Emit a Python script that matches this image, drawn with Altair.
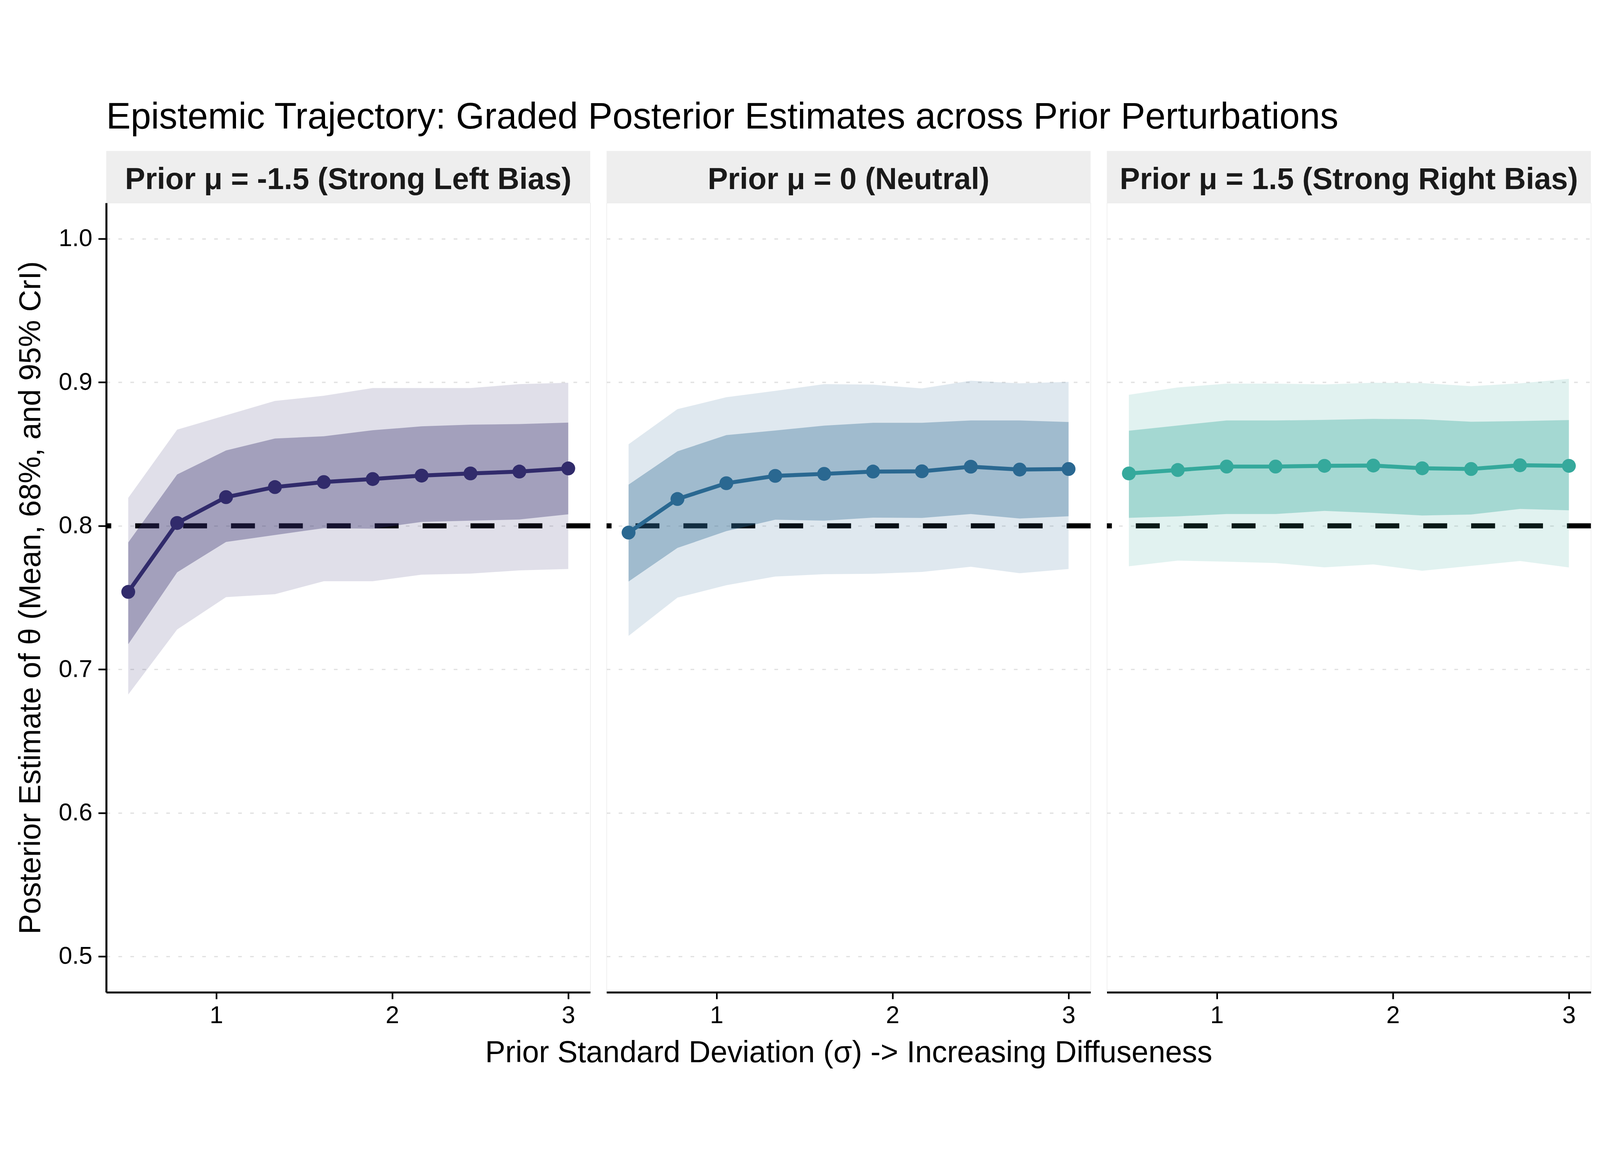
import altair as alt
import pandas as pd

# ---------------- data ----------------
sigma = [0.5, 0.7778, 1.0556, 1.3333, 1.6111, 1.8889, 2.1667, 2.4444, 2.7222, 3.0]

panel_labels = [
    "Prior \u03bc = -1.5 (Strong Left Bias)",
    "Prior \u03bc = 0 (Neutral)",
    "Prior \u03bc = 1.5 (Strong Right Bias)",
]
panel_colors = ["#312b6b", "#2a6891", "#35a99c"]

p1_mean = [0.754, 0.802, 0.820, 0.827, 0.8305, 0.8326, 0.835, 0.8365, 0.8378, 0.840]
p1_hi95 = [0.8195, 0.867, 0.877, 0.887, 0.8906, 0.896, 0.896, 0.896, 0.8987, 0.8997]
p1_hi68 = [0.7884, 0.8358, 0.8525, 0.8608, 0.8624, 0.8666, 0.8693, 0.8705, 0.8709, 0.8719]
p1_lo68 = [0.7175, 0.7676, 0.7888, 0.7936, 0.7984, 0.798, 0.8027, 0.8036, 0.8044, 0.808]
p1_lo95 = [0.6825, 0.7278, 0.7503, 0.7524, 0.7614, 0.7614, 0.766, 0.7667, 0.769, 0.7699]

p2_mean = [0.7953, 0.8187, 0.8297, 0.8348, 0.8362, 0.8378, 0.838, 0.8412, 0.8392, 0.8396]
p2_hi95 = [0.8568, 0.8813, 0.8896, 0.894, 0.8987, 0.8984, 0.8957, 0.9011, 0.8993, 0.9003]
p2_hi68 = [0.8287, 0.8519, 0.8632, 0.8664, 0.8698, 0.8718, 0.8718, 0.8734, 0.8734, 0.8723]
p2_lo68 = [0.7612, 0.7846, 0.7963, 0.8043, 0.8036, 0.8057, 0.8055, 0.8082, 0.8051, 0.8067]
p2_lo95 = [0.7233, 0.75, 0.7586, 0.7647, 0.7663, 0.7666, 0.7679, 0.7715, 0.767, 0.7699]

p3_mean = [0.8365, 0.8389, 0.8413, 0.8413, 0.8418, 0.842, 0.8401, 0.8396, 0.8422, 0.8418]
p3_hi95 = [0.8913, 0.8964, 0.8991, 0.8991, 0.8985, 0.8997, 0.8995, 0.8973, 0.8993, 0.9024]
p3_hi68 = [0.8663, 0.8699, 0.8734, 0.8734, 0.8738, 0.8745, 0.8742, 0.8725, 0.873, 0.8737]
p3_lo68 = [0.8056, 0.8066, 0.8082, 0.8082, 0.8104, 0.809, 0.8072, 0.8079, 0.8118, 0.8108]
p3_lo95 = [0.7718, 0.7758, 0.775, 0.7741, 0.7711, 0.7731, 0.7687, 0.7721, 0.7755, 0.771]

reference_value = 0.8
y_ticks = [0.5, 0.6, 0.7, 0.8, 0.9, 1.0]
x_ticks = [1, 2, 3]

title_text = "Epistemic Trajectory: Graded Posterior Estimates across Prior Perturbations"
x_title = "Prior Standard Deviation (\u03c3) -> Increasing Diffuseness"
y_title = "Posterior Estimate of \u03b8 (Mean, 68%, and 95% CrI)"

series = [
    (p1_mean, p1_hi95, p1_hi68, p1_lo68, p1_lo95),
    (p2_mean, p2_hi95, p2_hi68, p2_lo68, p2_lo95),
    (p3_mean, p3_hi95, p3_hi68, p3_lo68, p3_lo95),
]

# ---------------- layout ----------------
W = 1455
H = 2373
FONT = "Liberation Sans"

x_scale = alt.Scale(domain=[0.375, 3.125], nice=False, zero=False)
y_scale = alt.Scale(domain=[0.475, 1.025], nice=False, zero=False)


def x_axis(with_title):
    return alt.Axis(
        values=x_ticks, format="d", grid=False,
        domainColor="black", domainWidth=6,
        tickColor="black", tickWidth=5, tickSize=20,
        labelFontSize=73, labelColor="black", labelPadding=14, labelFont=FONT,
        title=x_title if with_title else "",
        titleFontSize=91, titleFontWeight="normal", titleColor="black",
        titlePadding=30, titleFont=FONT,
    )


def y_axis(first):
    common = dict(
        values=y_ticks, grid=True, gridDash=[11, 25], gridColor="#e2e2e2", gridWidth=4,
    )
    if first:
        return alt.Axis(
            format=".1f",
            domainColor="black", domainWidth=6,
            tickColor="black", tickWidth=5, tickSize=24,
            labelFontSize=73, labelColor="black", labelPadding=18, labelFont=FONT,
            title=y_title, titleFontSize=91, titleFontWeight="normal",
            titleColor="black", titlePadding=36, titleFont=FONT,
            **common,
        )
    return alt.Axis(labels=False, ticks=False, domain=False, title="",
                    minExtent=0, maxExtent=0, **common)


def make_panel(i):
    mean, hi95, hi68, lo68, lo95 = series[i]
    color = panel_colors[i]
    df = pd.DataFrame({
        "sigma": sigma, "mean": mean,
        "hi95": hi95, "hi68": hi68, "lo68": lo68, "lo95": lo95,
    })
    xa = x_axis(i == 1)
    ya = y_axis(i == 0)
    X = alt.X("sigma:Q", scale=x_scale, axis=xa)

    base = alt.Chart(df)

    ref = alt.Chart(pd.DataFrame({"ref": [reference_value]})).mark_rule(
        color="black", strokeWidth=15, strokeDash=[72, 72]
    ).encode(y=alt.Y("ref:Q", scale=y_scale, axis=ya))

    band95 = base.mark_area(color=color, opacity=0.15).encode(
        x=X, y=alt.Y("lo95:Q", scale=y_scale, axis=ya), y2="hi95:Q"
    )
    band68 = base.mark_area(color=color, opacity=0.35).encode(
        x=X, y=alt.Y("lo68:Q", scale=y_scale, axis=ya), y2="hi68:Q"
    )
    line = base.mark_line(color=color, strokeWidth=12).encode(
        x=X, y=alt.Y("mean:Q", scale=y_scale, axis=ya)
    )
    pts = base.mark_circle(color=color, size=1735, opacity=1).encode(
        x=X, y=alt.Y("mean:Q", scale=y_scale, axis=ya)
    )

    strip_df = pd.DataFrame({"label": [panel_labels[i]]})
    strip = alt.Chart(strip_df).mark_rect(color="#eeeeee").encode(
        x=alt.value(0), x2=alt.value(W), y=alt.value(-156), y2=alt.value(0)
    )
    strip_txt = alt.Chart(strip_df).mark_text(
        font=FONT, fontSize=91, fontWeight="bold", color="#1a1a1a",
        align="center", baseline="alphabetic",
    ).encode(text="label:N", x=alt.value(W / 2), y=alt.value(-42))

    return alt.layer(ref, band95, band68, line, pts, strip, strip_txt).properties(
        width=W, height=H
    )


chart = alt.hconcat(
    make_panel(0), make_panel(1), make_panel(2), spacing=49, bounds="flush"
).properties(
    title=alt.TitleParams(
        title_text, anchor="start", frame="bounds", font=FONT, fontSize=110,
        fontWeight="normal", color="black", dx=272, offset=44,
    ),
    padding={"left": 38, "top": 31, "right": 10, "bottom": 10},
).configure_view(stroke=None).configure(font=FONT, background="white")

chart.save("out.html", embed_options={"renderer": "svg", "actions": False})
